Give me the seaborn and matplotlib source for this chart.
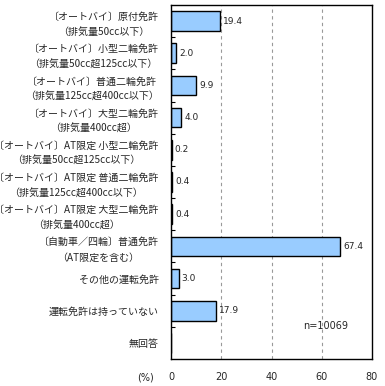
import matplotlib
matplotlib.use("Agg")
import matplotlib.pyplot as plt
import seaborn as sns
import pandas as pd
import numpy as np
from matplotlib.ticker import FixedLocator

categories = [
    "〔オートバイ〕原付免許\n（排気量50cc以下）",
    "〔オートバイ〕小型二輪免許\n（排気量50cc超125cc以下）",
    "〔オートバイ〕普通二輪免許\n（排気量125cc超400cc以下）",
    "〔オートバイ〕大型二輪免許\n（排気量400cc超）",
    "〔オートバイ〕AT限定 小型二輪免許\n（排気量50cc超125cc以下）",
    "〔オートバイ〕AT限定 普通二輪免許\n（排気量125cc超400cc以下）",
    "〔オートバイ〕AT限定 大型二輪免許\n（排気量400cc超）",
    "〔自動車／四輪〕普通免許\n（AT限定を含む）",
    "その他の運転免許",
    "運転免許は持っていない",
    "無回答",
]
values = [19.4, 2.0, 9.9, 4.0, 0.2, 0.4, 0.4, 67.4, 3.0, 17.9, 0.0]
value_labels = ["19.4", "2.0", "9.9", "4.0", "0.2", "0.4", "0.4", "67.4", "3.0", "17.9", ""]
x_ticks = [0, 20, 40, 60, 80]
n_text = "n=10069"

sns.set_theme(style="white")
plt.rcParams['font.family'] = ['Noto Sans CJK JP', 'DejaVu Sans']

df = pd.DataFrame({"cat": categories, "val": values})

fig = plt.figure(figsize=(3.85, 3.86), dpi=100)
ax = fig.add_axes([171/385, 1 - 359/386, (372-171)/385, (359-5)/386])

sns.barplot(data=df, x="val", y="cat", orient="h", color="#99CCFF",
            edgecolor="black", linewidth=1.0, width=0.61, saturation=1, ax=ax)

n = len(categories)
ax.set_xlim(0, 80)
ax.set_ylim(n - 0.5, -0.5)
ax.set_xlabel("")
ax.set_ylabel("")
ax.set_xticks(x_ticks)
ax.set_xticklabels([str(t) for t in x_ticks], fontsize=7, family="DejaVu Sans")
ax.tick_params(axis="x", length=0, pad=9)
ax.tick_params(axis="y", which="major", length=0, pad=9, labelsize=7.2)
for lab in ax.get_yticklabels():
    lab.set_multialignment("center")
    lab.set_linespacing(1.65)
ax.yaxis.set_minor_locator(FixedLocator(np.arange(0.5, n - 0.5, 1)))
ax.tick_params(axis="y", which="minor", direction="in", length=3, width=0.8, color="black", left=True)

for g in [20, 40, 60]:
    ax.axvline(g, color="#999999", linestyle=(0, (3, 3)), linewidth=0.8, zorder=0)

for s in ax.spines.values():
    s.set_color("black")
    s.set_linewidth(1.0)

for i, (v, lbl) in enumerate(zip(values, value_labels)):
    if lbl:
        ax.text(v + 1.2, i, lbl, va="center", ha="left", fontsize=6.5, family="DejaVu Sans")

ax.text(0.655, 0.093, n_text, transform=ax.transAxes, fontsize=7, family="DejaVu Sans", va="center")
fig.text(137/385, 1 - 378/386, "(%)", fontsize=7, family="DejaVu Sans", va="center", ha="left")

fig.savefig("out.png", dpi=100)
